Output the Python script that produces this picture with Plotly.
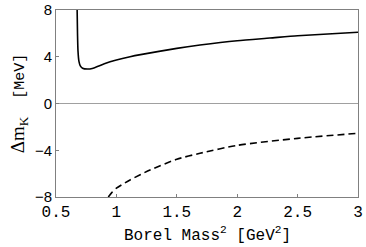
import plotly.graph_objects as go

borel_solid = [0.675, 0.678, 0.682, 0.69, 0.70, 0.72, 0.76, 0.80, 0.90, 1.0, 1.113, 1.2, 1.5, 1.692, 2.0, 2.27, 2.5, 3.0]
dm_solid = [8.0, 6.0, 4.5, 3.6, 3.25, 3.02, 2.95, 3.0, 3.4, 3.72, 4.0, 4.18, 4.72, 5.0, 5.37, 5.6, 5.8, 6.09]

borel_dashed = [0.933, 0.96, 1.0, 1.113, 1.278, 1.5, 1.692, 2.0, 2.5, 3.0]
dm_dashed = [-8.0, -7.65, -7.25, -6.54, -5.69, -4.77, -4.26, -3.58, -2.98, -2.55]

x_ticks = [0.5, 1, 1.5, 2, 2.5, 3]
x_ticklabels = ["0.5", "1", "1.5", "2", "2.5", "3"]
y_ticks = [-8, -4, 0, 4, 8]
y_ticklabels = ["\u22128", "\u22124", "0", "4", "8"]

fig = go.Figure()
fig.add_trace(go.Scatter(x=borel_solid, y=dm_solid, mode="lines", line=dict(color="black", width=1.6, shape="spline", smoothing=0.6)))
fig.add_trace(go.Scatter(x=borel_dashed, y=dm_dashed, mode="lines", line=dict(color="black", width=1.6, dash="7px,4px", shape="spline", smoothing=0.6)))

fig.update_layout(
    width=366, height=247,
    margin=dict(l=56, r=8, t=10, b=50),
    paper_bgcolor="white", plot_bgcolor="white",
    showlegend=False,
    xaxis=dict(
        range=[0.5, 3], tickvals=x_ticks, ticktext=x_ticklabels, automargin=False,
        showgrid=False, zeroline=False, showline=True, mirror=True,
        linecolor="#808080", linewidth=1,
        ticks="inside", ticklen=3, tickcolor="#808080",
        tickfont=dict(family="Liberation Mono", size=16, color="black"),
    ),
    yaxis=dict(
        range=[-8, 8], tickvals=y_ticks, ticktext=y_ticklabels, automargin=False,
        showgrid=False, zeroline=True, zerolinecolor="#a0a0a0", zerolinewidth=1,
        showline=True, mirror=True,
        linecolor="#808080", linewidth=1,
        ticks="inside", ticklen=3, tickcolor="#808080",
        tickfont=dict(family="Liberation Sans", size=15, color="black"),
        title=dict(text='<span style="font-family:Liberation Serif;font-size:19px">\u0394m<sub>K</sub></span>  [MeV]',
                   font=dict(family="Liberation Mono", size=15, color="black"), standoff=6),
    ),
    annotations=[dict(
        text="Borel Mass<sup>2</sup> [GeV<sup>2</sup>]",
        xref="paper", yref="paper", x=0.5, y=-0.262, xanchor="center", yanchor="bottom",
        showarrow=False, borderpad=0,
        font=dict(family="Liberation Mono", size=16, color="black"),
    )],
)

fig.write_html("out.html", config={"displayModeBar": False},
               post_script="document.body.style.margin='0';document.body.style.padding='0';")
